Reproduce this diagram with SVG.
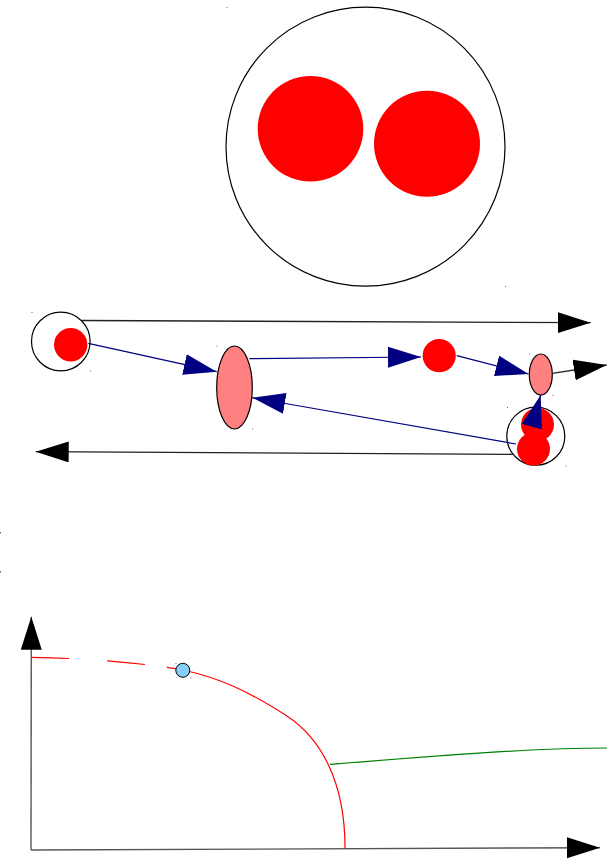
<svg xmlns="http://www.w3.org/2000/svg" width="616" height="866" viewBox="0 0 616 866">
<style>
.outline{fill:#fff;stroke:#000;stroke-width:1.2}
.red{fill:#ff0000;stroke:none}
.pink{fill:#ff8080;stroke:#000;stroke-width:1.2}
.blue{fill:none;stroke:#000080;stroke-width:1.2}
.black{fill:none;stroke:#222;stroke-width:1.3}
.axis{fill:none;stroke:#555;stroke-width:1.4}
.dot{fill:#666}
</style>
<defs>
<marker id="ah-blue" markerUnits="userSpaceOnUse" markerWidth="34" markerHeight="22" refX="33" refY="10.5" orient="auto">
<path d="M0,0 L33,10.5 L0,21 z" fill="#000080"/>
</marker>
<marker id="ah-black" markerUnits="userSpaceOnUse" markerWidth="34" markerHeight="22" refX="33" refY="10.5" orient="auto">
<path d="M0,0 L33,10.5 L0,21 z" fill="#000"/>
</marker>
</defs>

<g id="big-container">
<circle class="outline" cx="365.5" cy="146.7" r="139.5"/>
<circle class="red" cx="310.5" cy="128.8" r="52.8"/>
<circle class="red" cx="427" cy="143.8" r="53"/>
</g>

<g id="node-left">
<circle class="outline" cx="60.8" cy="341.5" r="29.3"/>
<circle class="red" cx="70.7" cy="344.7" r="16.7"/>
</g>
<g id="node-big-ellipse">
<ellipse class="pink" cx="234.5" cy="387.5" rx="17.8" ry="41.5"/>
</g>
<g id="node-mid-red">
<circle class="red" cx="439.2" cy="355.7" r="16.6"/>
</g>
<g id="node-small-ellipse">
<ellipse class="pink" cx="540.8" cy="374.5" rx="11.5" ry="20.5"/>
</g>
<g id="node-bottom-right">
<circle class="outline" cx="535.8" cy="436.2" r="29"/>
<circle class="red" cx="537.5" cy="424.5" r="16.5"/>
<circle class="red" cx="533.5" cy="449" r="16.5"/>
</g>

<g id="connectors">
<line class="black" x1="82" y1="320.5" x2="590.7" y2="322.7" marker-end="url(#ah-black)"/>
<line class="blue" x1="88.3" y1="343.3" x2="216.7" y2="371.7" marker-end="url(#ah-blue)"/>
<line class="blue" x1="249.3" y1="358.7" x2="421" y2="357" marker-end="url(#ah-blue)"/>
<line class="blue" x1="456.7" y1="355.7" x2="528.5" y2="374" marker-end="url(#ah-blue)"/>
<line class="black" x1="552.3" y1="373.3" x2="606.7" y2="365" marker-end="url(#ah-black)"/>
<line class="blue" x1="532" y1="426" x2="540.7" y2="395" marker-end="url(#ah-blue)"/>
<line class="blue" x1="516" y1="444" x2="252.3" y2="397.7" marker-end="url(#ah-blue)"/>
<line class="black" x1="513.3" y1="454.3" x2="35.7" y2="451.7" marker-end="url(#ah-black)"/>
</g>

<g id="graph">
<line class="axis" x1="31" y1="850" x2="31.3" y2="616.7" marker-end="url(#ah-black)"/>
<line class="axis" x1="31" y1="850" x2="600" y2="847.7" marker-end="url(#ah-black)"/>
<path d="M31,657.3 Q120,659 183,670" fill="none" stroke="#ff0000" stroke-width="1.2" stroke-dasharray="38 38 38 22 200"/>
<path d="M183,670 C220,678 250,692 287,716 C320,738 345,780 345,848" fill="none" stroke="#ff0000" stroke-width="1.2"/>
<path d="M330,764.3 C420,757 530,748 607,748" fill="none" stroke="#008000" stroke-width="1.2"/>
</g>
<g id="node-blue-point">
<circle cx="182.8" cy="670.3" r="7" fill="#87cefa" stroke="#000" stroke-width="1"/>
</g>

<g id="handles">
<rect class="dot" x="226.5" y="7" width="1" height="1"/>
<rect class="dot" x="505" y="286" width="1" height="1"/>
<rect class="dot" x="31.5" y="312" width="1" height="1"/>
<rect class="dot" x="90" y="370.5" width="1" height="1"/>
<rect class="dot" x="216.5" y="345.5" width="1" height="1"/>
<rect class="dot" x="252" y="428.5" width="1" height="1"/>
<rect class="dot" x="529" y="353.5" width="1" height="1"/>
<rect class="dot" x="552.5" y="395" width="1" height="1"/>
<rect class="dot" x="507" y="407" width="1" height="1"/>
<rect class="dot" x="565.5" y="465.5" width="1" height="1"/>
<rect class="dot" x="175.5" y="663" width="1" height="1"/>
<rect class="dot" x="190.5" y="677.5" width="1" height="1"/>
<rect class="dot" x="0" y="532" width="1" height="1.5"/>
<rect class="dot" x="0" y="571" width="1" height="1.5"/>
</g>
</svg>
